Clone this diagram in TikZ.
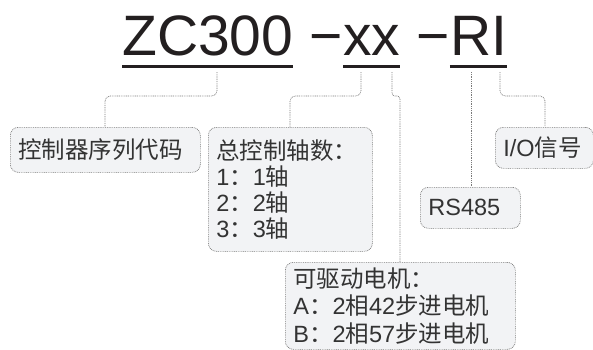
\documentclass[tikz,border=0pt]{standalone}
\usepackage{fontspec}
\setmainfont{Liberation Sans}
\newfontfamily\cjk{Noto Sans CJK SC}
\newcommand\zh[1]{{\cjk #1}}
\usetikzlibrary{positioning}

\definecolor{boxgray}{HTML}{F2F3F5}
\definecolor{linegray}{HTML}{7A7A7A}
\definecolor{ink}{HTML}{231F20}

\tikzset{
  titlepart/.style={inner sep=0pt, anchor=base west, text=ink, font=\fontsize{57}{60}\selectfont},
  underbar/.style={draw=ink, line width=3pt},
  infobox/.style={draw=linegray, line width=0.7pt, dash pattern=on 0.9pt off 0.9pt, fill=boxgray, rounded corners=8pt,
    anchor=north west, inner xsep=8pt, inner ysep=0pt, align=left, text=black!80,
    font=\fontsize{23.5}{26}\selectfont},
  leader/.style={draw=linegray, line width=0.7pt, dash pattern=on 0.9pt off 0.9pt, rounded corners=5pt}
}

\begin{document}
\begin{tikzpicture}[x=1pt, y=-1pt]
  \useasboundingbox (0,0) rectangle (593,349);

  % model code
  \node[titlepart] (zc) at (122,55) {ZC300};
  \node[titlepart] (dash1) at (zc.base east) {\ −};
  \node[titlepart] (xx) at (dash1.base east) {xx};
  \node[titlepart] (dash2) at (xx.base east) {\ −};
  \node[titlepart] (ri) at (dash2.base east) {RI};
  \draw[underbar] ([yshift=-11pt]zc.base west) -- ([yshift=-11pt]zc.base east);
  \draw[underbar] ([yshift=-11pt]xx.base west) -- ([yshift=-11pt]xx.base east);
  \draw[underbar] ([yshift=-11pt]ri.base west) -- ([yshift=-11pt]ri.base east);

  % boxes
  \node[infobox, text width=174pt, minimum height=45pt] (code) at (10,127) {\zh{控制器序列代码}};
  \node[infobox, text width=148pt, minimum height=124pt] (axis) at (208,127)
    {\zh{总控制轴数：}\\1\zh{：}1\zh{轴}\\2\zh{：}2\zh{轴}\\3\zh{：}3\zh{轴}};
  \node[infobox, text width=214pt, minimum height=87pt, font=\fontsize{23.5}{27.5}\selectfont] (motor) at (285,262)
    {\zh{可驱动电机：}\\A\zh{：}2\zh{相}42\zh{步进电机}\\B\zh{：}2\zh{相}57\zh{步进电机}};
  \node[infobox, text width=84pt, minimum height=41pt] (rs) at (420,187) {RS485};
  \node[infobox, text width=82pt, minimum height=41pt] (io) at (495,127) {I/O\zh{信号}};

  % leaders
  \coordinate (zcfoot) at (217,72);
  \coordinate (xxfootA) at (361,72);
  \coordinate (xxfootB) at (392,72);
  \coordinate (rifootA) at (471,72);
  \coordinate (rifootB) at (500,72);
  \draw[leader] (zcfoot) -- ++(0,24) -| ([xshift=95pt]code.north west);
  \draw[leader] (xxfootA) -- ++(0,24) -| ([xshift=82pt]axis.north west);
  \draw[leader, rounded corners=3pt] (xxfootB) -- ++(0,24) -| ([xshift=115pt]motor.north west);
  \draw[leader] (rifootA) -- (rifootA |- rs.north);
  \draw[leader] (rifootB) -- ++(0,24) -| ([xshift=50pt]io.north west);
\end{tikzpicture}
\end{document}
